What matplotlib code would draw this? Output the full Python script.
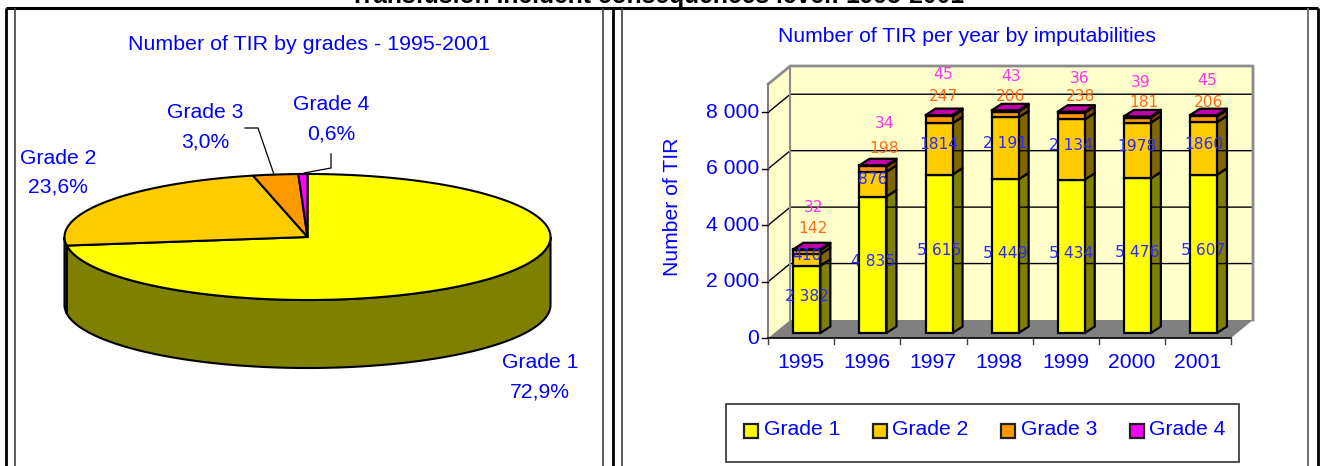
import numpy as np
import matplotlib
matplotlib.use("Agg")
import matplotlib.pyplot as plt
from matplotlib.patches import Polygon, Rectangle

W, H = 1321, 466
years = ["1995", "1996", "1997", "1998", "1999", "2000", "2001"]
grade_names = ["Grade 1", "Grade 2", "Grade 3", "Grade 4"]
grade1 = [2382, 4835, 5615, 5449, 5434, 5476, 5607]
grade2 = [410, 876, 1814, 2191, 2134, 1978, 1860]
grade3 = [142, 198, 247, 206, 238, 181, 206]
grade4 = [32, 34, 45, 43, 36, 39, 45]
label_g1 = ["2 382", "4 835", "5 615", "5 449", "5 434", "5 476", "5 607"]
label_g2 = ["410", "876", "1814", "2 191", "2 134", "1978", "1860"]
pie_shares = [72.9, 23.6, 3.0, 0.6]
pie_labels = ["72,9%", "23,6%", "3,0%", "0,6%"]
ytick_vals = [0, 2000, 4000, 6000, 8000]
ytick_labels = ["0", "2 000", "4 000", "6 000", "8 000"]

front = ["#ffff00", "#ffcc00", "#ff9900", "#ff00ff"]
side = ["#808000", "#806600", "#804d00", "#800080"]
top_col = "#c000a8"
BLUE = "#0000ff"
LBLUE = "#2a2aff"
SANS = "Liberation Sans"
MONO = "DejaVu Sans"

fig = plt.figure(figsize=(W / 100, H / 100), dpi=100, facecolor="white")

def axes_px(x0, y0, x1, y1):
    return fig.add_axes([x0 / W, 1 - y1 / H, (x1 - x0) / W, (y1 - y0) / H])

# ---------- PIE ----------
cx, cy, rx, ry, depth = 307.5, 237, 243, 63, 68
axp = axes_px(cx - rx, cy - ry, cx + rx, cy + ry)
axp.set_xlim(-1, 1); axp.set_ylim(-1, 1); axp.axis("off")
d = depth / ry
edges = np.cumsum([0] + pie_shares) / sum(pie_shares) * 2 * np.pi

def arc(a, b):
    t = np.linspace(a, b, max(int((b - a) * 60), 2))
    return np.sin(t), np.cos(t)

for i in range(4):
    a, b = max(edges[i], np.pi / 2), min(edges[i + 1], 3 * np.pi / 2)
    if b > a:
        x, y = arc(a, b)
        pts = np.r_[np.c_[x, y], np.c_[x[::-1], y[::-1] - d]]
        axp.add_patch(Polygon(pts, closed=True, fc=side[i], ec="black", lw=1.5, clip_on=False))
for i in range(4):
    x, y = arc(edges[i], edges[i + 1])
    pts = np.r_[[[0, 0]], np.c_[x, y]]
    axp.add_patch(Polygon(pts, closed=True, fc=front[i], ec="black", lw=1.5, clip_on=False, joinstyle="round"))

# ---------- BARS ----------
ax0, ax1, base_y, top_y = 768.3, 1231, 338, 84
axb = axes_px(ax0, top_y, ax1, base_y)
ymax = 9000
axb.set_xlim(-0.5, 6.5); axb.set_ylim(0, ymax); axb.axis("off")
px_x = 7 / (ax1 - ax0)
px_y = ymax / (base_y - top_y)
wx, wy = 22 * px_x, 18 * px_y

def poly(pts, **kw):
    axb.add_patch(Polygon(pts, closed=True, clip_on=False, **kw))

poly([(-0.5, ymax), (-0.5 + wx, ymax + wy), (-0.5 + wx, wy), (-0.5, 0)], fc="#ffffcc", ec="none")
poly([(-0.5 + wx, ymax + wy), (6.5 + wx, ymax + wy), (6.5 + wx, wy), (-0.5 + wx, wy)], fc="#ffffcc", ec="none")
poly([(-0.5, 0), (-0.5 + wx, wy), (6.5 + wx, wy), (6.5, 0)], fc="#808080", ec="none")
for v in ytick_vals[1:]:
    axb.plot([-0.5, -0.5 + wx, 6.5 + wx], [v, v + wy, v + wy], color="black", lw=1, clip_on=False)
axb.plot([-0.5, -0.5 + wx, 6.5 + wx, 6.5 + wx], [ymax, ymax + wy, ymax + wy, wy], color="#8c8c8c", lw=2, clip_on=False)
axb.plot([-0.5 + wx, -0.5 + wx], [wy, ymax + wy], color="#8c8c8c", lw=1.5, clip_on=False)
axb.plot([-0.5, -0.5], [0, ymax], color="#808080", lw=1.5, clip_on=False)
axb.plot([-0.5, 6.5], [0, 0], color="black", lw=1.2, clip_on=False)
for v in ytick_vals:
    axb.plot([-0.5 - 6 * px_x, -0.5], [v, v], color="black", lw=1, clip_on=False)
for i in range(8):
    axb.plot([i - 0.5, i - 0.5], [0, -6 * px_y], color="#404040", lw=1, clip_on=False)

off_x, off_y = 5.5 * px_x, 5 * px_y
bw = 27 * px_x
sx, sy = 10 * px_x, 6.5 * px_y
series = [grade1, grade2, grade3, grade4]
xs = np.arange(len(years)) + off_x
for j, x in enumerate(xs):
    b = off_y
    for k, vals in enumerate(series):
        v = vals[j]
        l, r = x - bw / 2, x + bw / 2
        poly([(r, b), (r + sx, b + sy), (r + sx, b + v + sy), (r, b + v)], fc=side[k], ec="black", lw=1.6, joinstyle="round")
        axb.bar(x, v, bottom=b, width=bw, color=front[k], edgecolor="black", linewidth=1.6, clip_on=False, zorder=2)
        b += v
    poly([(l, b), (l + sx, b + sy), (r + sx, b + sy), (r, b)], fc=top_col, ec="black", lw=1.6, joinstyle="round", zorder=3)

# data labels (layout nudges in pixels, placed as in the reference)
g3_dx = [6, 11, 5, 5, 9, 7, 5]
g3_dy = [21, 17, 19, 14, 15, 14, 13]
g4_dx = [7, 12, 4, 6, 8, 3, 4]
g4_dy = [42, 42, 41, 34, 33, 34, 35]
for j, x in enumerate(xs):
    t = grade1[j] + grade2[j] + grade3[j] + grade4[j]
    kw = dict(ha="center", va="center", family=MONO, fontsize=11.2, zorder=6, clip_on=False)
    axb.text(x, off_y + grade1[j] / 2 + 3 * px_y, label_g1[j], color=LBLUE, **kw)
    axb.text(x, off_y + grade1[j] + grade2[j] / 2 + 4.5 * px_y, label_g2[j], color=LBLUE, **kw)
    axb.text(x + g3_dx[j] * px_x, off_y + t + g3_dy[j] * px_y, str(grade3[j]), color="#ff6a1a", **kw)
    axb.text(x + g4_dx[j] * px_x, off_y + t + g4_dy[j] * px_y, str(grade4[j]), color="#ff33ee", **kw)

# ---------- OVERLAY (pixel coordinates for frames, text) ----------
o = axes_px(0, 0, W, H)
o.set_xlim(0, W); o.set_ylim(H, 0); o.axis("off"); o.patch.set_alpha(0)

o.plot([6, 1318], [8, 8], color="black", lw=2.2, solid_capstyle="butt")
for xv, c, lw in [(6, "black", 2), (15, "#404040", 1.2), (603, "#404040", 1.2),
                  (613, "black", 2), (622, "#404040", 1.2), (1308, "#707070", 1.4), (1318, "black", 2)]:
    o.plot([xv, xv], [8, H], color=c, lw=lw, solid_capstyle="butt")

def txt(x, y, s, size=15.2, color=BLUE, **kw):
    o.text(x, y, s, family=SANS, fontsize=size, color=color, ha=kw.pop("ha", "center"), va=kw.pop("va", "center"), **kw)

o.text(657, 3, "Transfusion incident consequences level: 1995-2001", family=SANS, fontsize=17.7,
       fontweight="bold", color="black", ha="center", va="baseline", clip_on=True)

txt(309, 44, "Number of TIR by grades - 1995-2001", size=15.4)
txt(967, 36, "Number of TIR per year by imputabilities", size=15.2)

label_pos = [(540, 362, 392), (58, 158, 187), (205, 112, 142), (331, 104, 134)]
for (x, y1, y2), name, p in zip(label_pos, grade_names, pie_labels):
    txt(x, y1, name)
    txt(x, y2, p)
o.plot([245, 258, 273.5], [128, 128, 173], color="black", lw=0.9)
o.plot([331, 331, 304], [154, 168, 173], color="black", lw=0.9)

for v, s in zip(ytick_vals, ytick_labels):
    txt(759, base_y - v / px_y, s, ha="right")
for i, y in enumerate(years):
    txt(801 + 66.1 * i, 363, y)
txt(673, 207, "Number of TIR", rotation=90)

o.add_patch(Rectangle((726, 404), 513, 58, fc="white", ec="#404040", lw=1.3))
for mx, tx, name, col in zip([743, 872, 1000, 1129], [764, 892, 1021, 1149], grade_names, front):
    o.add_patch(Rectangle((mx + 1, 423.5), 14, 14.5, fc=col, ec="#202020", lw=1.6))
    txt(tx, 429.5, name, ha="left")

fig.savefig("out.png", dpi=100, facecolor="white")
